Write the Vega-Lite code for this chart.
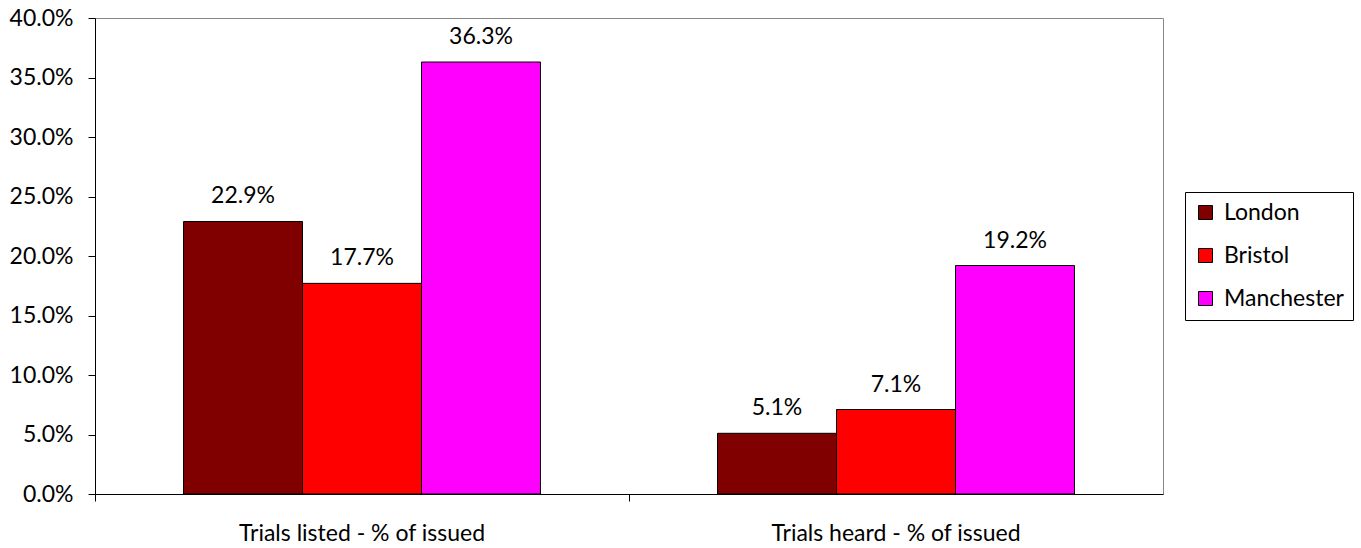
{
  "$schema": "https://vega.github.io/schema/vega-lite/v6.json",
  "autosize": {"type": "none"},
  "width": 1068,
  "height": 476,
  "padding": {"left": 95, "top": 18, "right": 198, "bottom": 54},
  "background": "white",
  "config": {
    "view": {"stroke": "#888888", "strokeWidth": 1},
    "font": "Lato",
    "axis": {"grid": false}
  },
  "data": {
    "values": [
      {"measure": "Trials listed - % of issued", "city": "London", "value": 0.229},
      {"measure": "Trials listed - % of issued", "city": "Bristol", "value": 0.177},
      {"measure": "Trials listed - % of issued", "city": "Manchester", "value": 0.363},
      {"measure": "Trials heard - % of issued", "city": "London", "value": 0.051},
      {"measure": "Trials heard - % of issued", "city": "Bristol", "value": 0.071},
      {"measure": "Trials heard - % of issued", "city": "Manchester", "value": 0.192}
    ]
  },
  "encoding": {
    "x": {
      "field": "measure",
      "type": "nominal",
      "sort": ["Trials listed - % of issued", "Trials heard - % of issued"],
      "scale": {"paddingInner": 0, "paddingOuter": 0},
      "axis": {
        "title": null,
        "labelAngle": 0,
        "bandPosition": 0,
        "labelLimit": 0,
        "labelFontSize": 23,
        "labelColor": "black",
        "labelPadding": 21,
        "tickSize": 7,
        "tickColor": "black",
        "domainColor": "black",
        "labelFont": "Lato"
      }
    },
    "xOffset": {
      "field": "city",
      "type": "nominal",
      "sort": ["London", "Bristol", "Manchester"],
      "scale": {"paddingInner": 0, "paddingOuter": 0.744}
    },
    "y": {
      "field": "value",
      "type": "quantitative",
      "scale": {"domain": [0, 0.4], "nice": false},
      "axis": {
        "title": null,
        "format": ".1%",
        "values": [0, 0.05, 0.1, 0.15, 0.2, 0.25, 0.3, 0.35, 0.4],
        "labelFontSize": 23,
        "labelColor": "black",
        "labelPadding": 15,
        "tickSize": 7,
        "tickColor": "black",
        "domainColor": "black",
        "labelFont": "Lato"
      }
    }
  },
  "layer": [
    {
      "mark": {"type": "bar", "stroke": "black", "strokeWidth": 1},
      "encoding": {
        "color": {
          "field": "city",
          "type": "nominal",
          "sort": ["London", "Bristol", "Manchester"],
          "scale": {"domain": ["London", "Bristol", "Manchester"], "range": ["#800000", "#FF0000", "#FF00FF"]},
          "legend": {
            "title": null,
            "orient": "none",
            "legendX": 1090,
            "legendY": 174,
            "strokeColor": "black",
            "padding": 9,
            "symbolType": "square",
            "symbolSize": 196,
            "symbolStrokeColor": "black",
            "symbolStrokeWidth": 1,
            "labelFontSize": 23,
            "labelColor": "black",
            "labelFont": "Lato",
            "labelOffset": 7,
            "rowPadding": 19
          }
        }
      }
    },
    {
      "mark": {"type": "text", "baseline": "bottom", "dy": -13, "fontSize": 23, "color": "black", "font": "Lato"},
      "encoding": {
        "text": {"field": "value", "type": "quantitative", "format": ".1%"}
      }
    }
  ]
}
